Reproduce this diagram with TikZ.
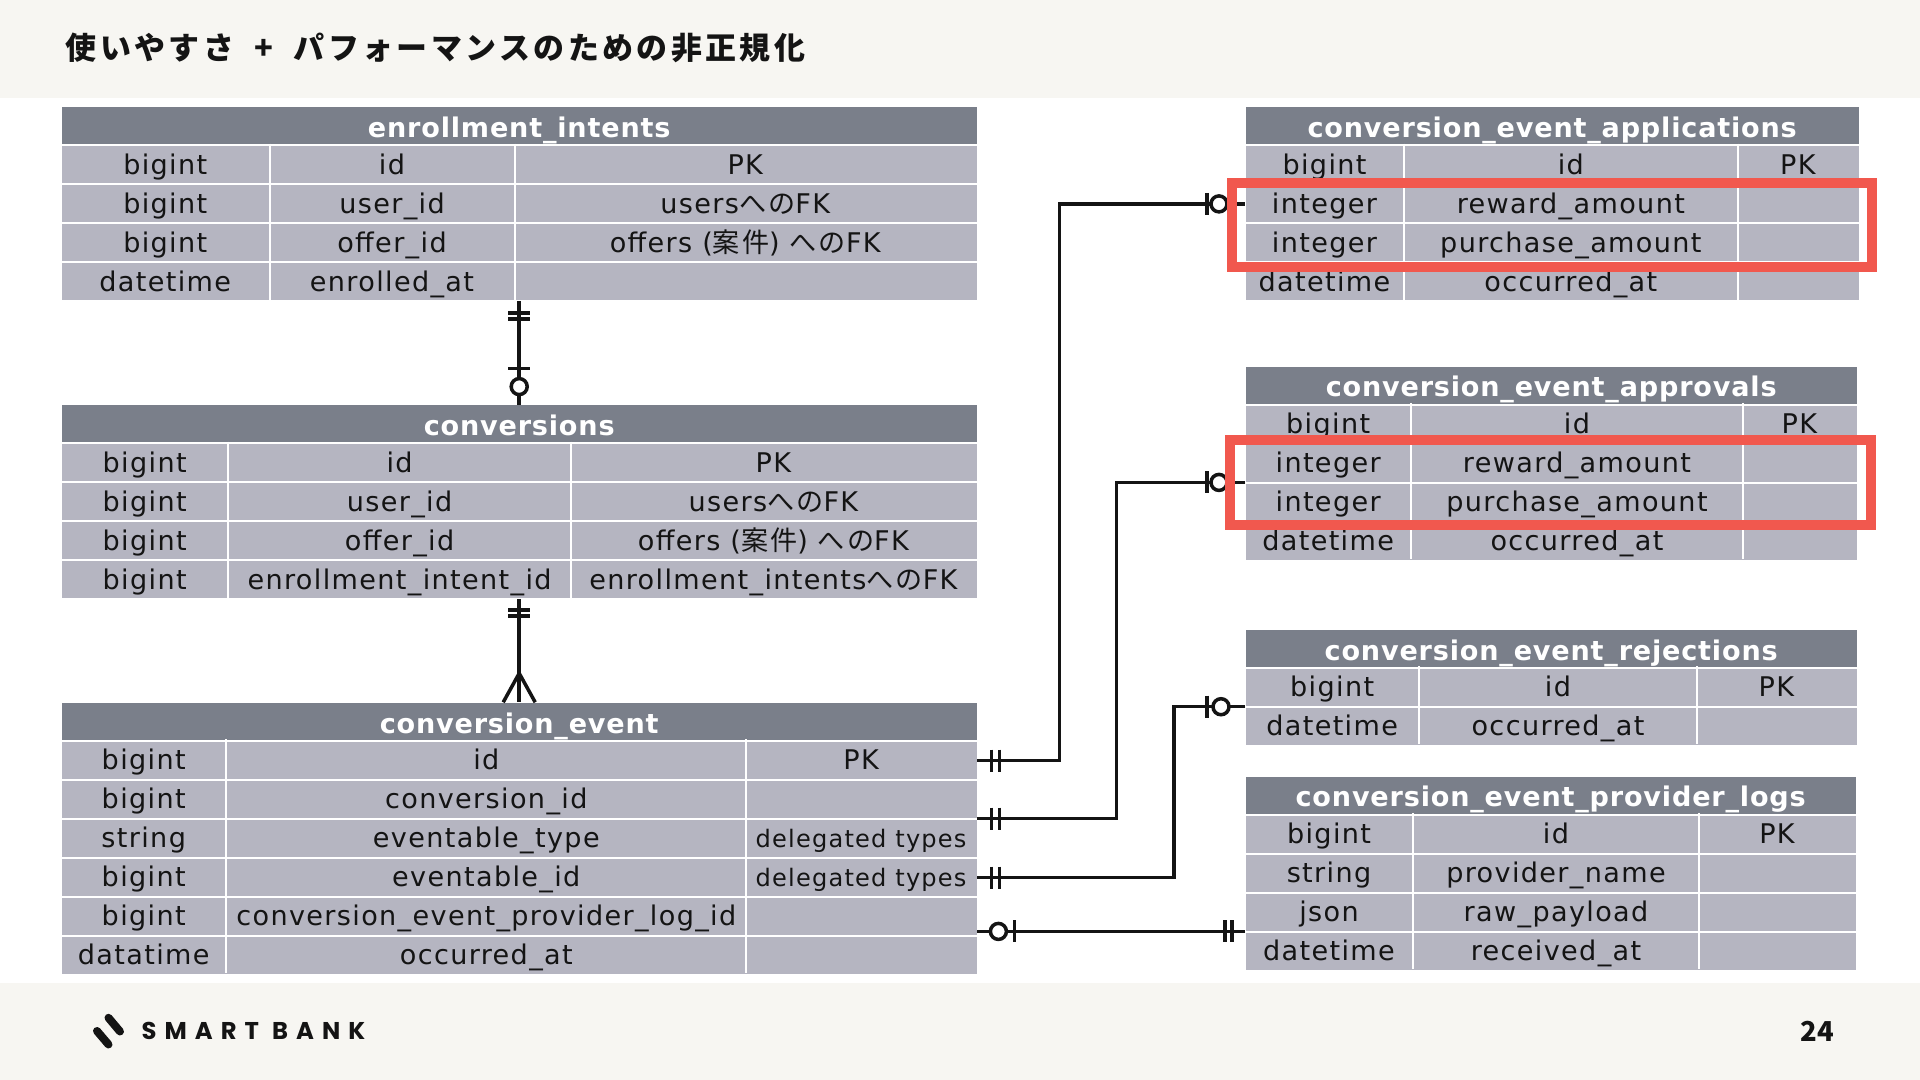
\documentclass[tikz,border=0pt]{standalone}
\usepackage{fontspec}
\setmainfont{DejaVu Sans}[LetterSpace=5]
\newfontfamily\hdrfont{DejaVu Sans}[LetterSpace=3]
\newfontfamily\jpfont{Noto Sans CJK JP}[LetterSpace=8]
\newfontfamily\numfont{Noto Sans CJK JP}
\newfontfamily\titlefont{Noto Sans CJK JP}[LetterSpace=11]
\newfontfamily\logofont{Poppins}[LetterSpace=33]

\definecolor{bandgray}{RGB}{247,246,242}
\definecolor{headgray}{RGB}{122,127,138}
\definecolor{rowgray}{RGB}{181,181,193}
\definecolor{markred}{RGB}{241,88,78}
\definecolor{inkblack}{RGB}{20,20,20}

\newcommand{\px}{0.01cm}
\newcommand{\ja}[1]{{\jpfont #1}}
\newcommand{\fitnote}[1]{{\fontsize{6.85pt}{8pt}\selectfont #1}}

\tikzset{
  hdr/.style={fill=headgray, text=white, anchor=north west, inner sep=0,
    minimum height=0.37cm, text height=0.27cm, text depth=0.04cm,
    font=\hdrfont\fontsize{7.7pt}{9pt}\selectfont\bfseries},
  rowbox/.style={fill=rowgray, anchor=north west, inner sep=0, minimum height=0.37cm},
  cell/.style={anchor=base, inner sep=0, text=inkblack, font=\fontsize{7.7pt}{9pt}\selectfont},
  sep/.style={draw=white, line width=0.02cm},
  link/.style={draw=inkblack, line width=1pt},
  redbox/.style={draw=markred, line width=0.1cm},
}

%% #1 name, #2 left, #3 right, #4 top, #5 #6 column lines, #7 title, #8 rows
\newcommand{\ertable}[8]{%
  \node[hdr, minimum width={(#3-#2)*\px}] (#1) at (#2,#4) {#7};
  \foreach \ty/\fd/\nt [count=\i] in {#8} {
    \node[rowbox, minimum width={(#3-#2)*\px}] (#1-\i) at (#2,{#4+\i*39}) {};
    \draw[sep] (#5,{#4+\i*39-2}) -- (#5,{#4+\i*39+37});
    \draw[sep] (#6,{#4+\i*39-2}) -- (#6,{#4+\i*39+37});
    \node[cell] (#1-\i-a) at ({(#2+#5)/2},{#4+\i*39+28.5}) {\ty};
    \node[cell] (#1-\i-b) at ({(#5+#6)/2},{#4+\i*39+28.5}) {\fd};
    \node[cell] (#1-\i-c) at ({(#6+#3)/2},{#4+\i*39+28.5}) {\nt};
  }%
}

\begin{document}
\begin{tikzpicture}[x=0.01cm,y=-0.01cm]
  \useasboundingbox (0,0) rectangle (1920,1080);
  \fill[white] (0,0) rectangle (1920,1080);
  \fill[bandgray] (0,0) rectangle (1920,98);
  \fill[bandgray] (0,983) rectangle (1920,1080);

  %% title
  \node[anchor=base west, inner sep=0, text=inkblack,
    font=\titlefont\bfseries\fontsize{8.8pt}{10pt}\selectfont] (title) at (65,59.5)
    {使いやすさ\hspace{0.1cm} + \hspace{0.1cm}パフォーマンスのための非正規化};

  %% left tables
  \ertable{ei}{61}{976}{106.7}{269.5}{514.5}{enrollment\_intents}{%
    bigint/id/PK,
    bigint/user\_id/users\ja{への}FK,
    bigint/offer\_id/offers (\ja{案件}) \ja{への}FK,
    datetime/enrolled\_at/{}}
  \ertable{cv}{61}{976}{404.6}{228.3}{570.8}{conversions}{%
    bigint/id/PK,
    bigint/user\_id/users\ja{への}FK,
    bigint/offer\_id/offers (\ja{案件}) \ja{への}FK,
    bigint/enrollment\_intent\_id/enrollment\_intents\ja{への}FK}
  \ertable{ce}{61}{976}{702.3}{226.4}{746.2}{conversion\_event}{%
    bigint/id/PK,
    bigint/conversion\_id/{},
    string/eventable\_type/\fitnote{delegated types},
    bigint/eventable\_id/\fitnote{delegated types},
    bigint/conversion\_event\_provider\_log\_id/{},
    datatime/occurred\_at/{}}

  %% right tables
  \ertable{ea}{1245}{1858}{106.7}{1404}{1737.7}{conversion\_event\_applications}{%
    bigint/id/PK,
    integer/reward\_amount/{},
    integer/purchase\_amount/{},
    datetime/occurred\_at/{}}
  \ertable{ep}{1245}{1856}{366}{1411.3}{1742.6}{conversion\_event\_approvals}{%
    bigint/id/PK,
    integer/reward\_amount/{},
    integer/purchase\_amount/{},
    datetime/occurred\_at/{}}
  \ertable{er}{1245}{1856}{629.3}{1419.3}{1696.7}{conversion\_event\_rejections}{%
    bigint/id/PK,
    datetime/occurred\_at/{}}
  \ertable{pl}{1245}{1855}{776}{1413}{1699}{conversion\_event\_provider\_logs}{%
    bigint/id/PK,
    string/provider\_name/{},
    json/raw\_payload/{},
    datetime/received\_at/{}}

  %% enrollment_intents - conversions
  \draw[link] (ei-4.south) -- (cv.north);
  \draw[link] (ei-4.south) ++(-11,12) -- ++(22,0) ++(-22,6) -- ++(22,0);
  \draw[link] (cv.north) ++(-11,-36) -- ++(22,0);
  \draw[link,fill=white] (cv.north) ++(0,-18) circle[radius=8];

  %% conversions - conversion_event
  \draw[link] (cv-4.south) -- (ce.north);
  \draw[link] (cv-4.south) ++(-11,11) -- ++(22,0) ++(-22,6) -- ++(22,0);
  \draw[link] (ce.north) ++(-16,0) -- ++(16,-29) -- ++(16,29);

  %% conversion_event - applications
  \draw[link] (ce-1.east) -- ++(82,0) |- (ea-2.west);
  \draw[link] (ce-1.east) ++(14,-11) -- ++(0,22) ++(8,-22) -- ++(0,22);
  \draw[link] (ea-2.west) ++(-38,-11) -- ++(0,22);
  \draw[link,fill=white] (ea-2.west) ++(-26,0) circle[radius=8];

  %% conversion_event - approvals
  \draw[link] (ce-2.south east) -- ++(139,0) |- (ep-2.south west);
  \draw[link] (ce-2.south east) ++(14,-11) -- ++(0,22) ++(8,-22) -- ++(0,22);
  \draw[link] (ep-2.south west) ++(-38,-11) -- ++(0,22);
  \draw[link,fill=white] (ep-2.south west) ++(-26,0) circle[radius=8];

  %% conversion_event - rejections
  \draw[link] (ce-4.east) -- ++(196.5,0) |- (er-1.south west);
  \draw[link] (ce-4.east) ++(14,-11) -- ++(0,22) ++(8,-22) -- ++(0,22);
  \draw[link] (er-1.south west) ++(-38,-11) -- ++(0,22);
  \draw[link,fill=white] (er-1.south west) ++(-24,0) circle[radius=8];

  %% conversion_event - provider_logs
  \draw[link] (pl-3.south west -| ce-5.east) -- (pl-3.south west);
  \draw[link,fill=white] (pl-3.south west -| ce-5.east) ++(21,0) circle[radius=8];
  \draw[link] (pl-3.south west -| ce-5.east) ++(37,-11) -- ++(0,22);
  \draw[link] (pl-3.south west) ++(-20,-11) -- ++(0,22) ++(7,-22) -- ++(0,22);

  %% highlights
  \draw[redbox] (1231.5,183.3) rectangle (1872,266.7);
  \draw[redbox] (1230,439.6) rectangle (1871,525);

  %% footer
  \draw[inkblack, line width=0.08cm, line cap=round] (108.5,1017.8) -- (120,1031.5);
  \draw[inkblack, line width=0.08cm, line cap=round] (97,1031) -- (108.5,1044.5);
  \node[anchor=base west, inner sep=0, text=inkblack,
    font=\logofont\bfseries\fontsize{6.9pt}{8pt}\selectfont] (logo) at (141,1040) {SMART BANK};
  \node[anchor=base east, inner sep=0, text=inkblack,
    font=\numfont\bfseries\fontsize{7.8pt}{9pt}\selectfont] (page) at (1835,1041.7) {24};
\end{tikzpicture}
\end{document}
